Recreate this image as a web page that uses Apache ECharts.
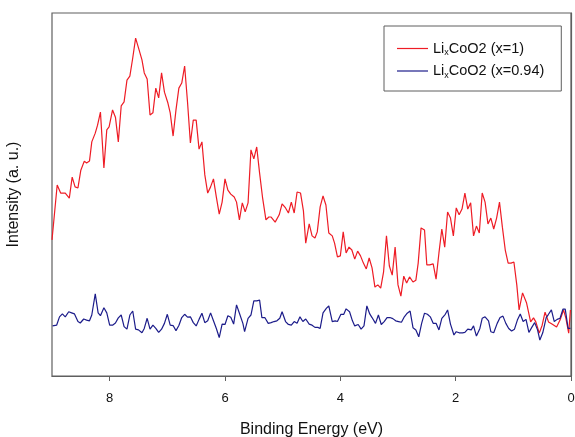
<!DOCTYPE html>
<html>
<head>
<meta charset="utf-8">
<script src="https://cdn.jsdelivr.net/npm/echarts@6/dist/echarts.min.js"></script>
<style>
  html, body { margin: 0; padding: 0; background: #fff; }
  #chart { width: 575px; height: 437px; }
</style>
</head>
<body>
<div id="chart"></div>
<script>
// binding energy (eV) and intensity (a.u., 0-100)
const redEnergy = [9.00,8.91,8.85,8.77,8.70,8.65,8.60,8.55,8.50,8.44,8.40,8.35,8.31,8.25,8.21,8.16,8.10,8.05,8.01,7.95,7.90,7.85,7.80,7.75,7.70,7.65,7.60,7.55,7.50,7.44,7.40,7.35,7.30,7.25,7.20,7.15,7.10,7.05,6.99,6.95,6.90,6.85,6.80,6.75,6.70,6.65,6.60,6.55,6.50,6.45,6.40,6.35,6.30,6.25,6.20,6.15,6.10,6.05,6.00,5.95,5.90,5.84,5.80,5.75,5.70,5.65,5.60,5.55,5.50,5.45,5.40,5.35,5.29,5.24,5.20,5.13,5.06,5.01,4.95,4.90,4.85,4.80,4.75,4.69,4.64,4.60,4.54,4.49,4.44,4.40,4.35,4.30,4.25,4.20,4.14,4.10,4.05,4.00,3.95,3.90,3.85,3.80,3.75,3.70,3.65,3.60,3.55,3.50,3.45,3.40,3.35,3.30,3.25,3.20,3.15,3.10,3.05,3.00,2.95,2.90,2.85,2.80,2.74,2.69,2.65,2.60,2.54,2.50,2.45,2.39,2.34,2.29,2.24,2.19,2.14,2.09,2.04,1.99,1.94,1.89,1.84,1.79,1.74,1.69,1.64,1.59,1.54,1.49,1.44,1.39,1.34,1.29,1.24,1.19,1.14,1.09,1.04,0.99,0.94,0.90,0.84,0.77,0.70,0.65,0.61,0.55,0.50,0.45,0.39,0.33,0.25,0.19,0.13,0.09,0.04,0.01]
const redIntensity = [37.5,52.6,50.4,50.4,49.0,54.8,52.1,51.8,56.7,59.2,58.7,59.2,64.5,66.9,69.1,72.7,57.3,67.8,68.6,73.3,71.3,64.5,74.4,75.5,81.5,82.6,87.6,93.1,90.4,87.1,83.5,81.8,71.9,72.5,79.3,76.6,83.5,78.2,75.2,72.5,66.1,73.3,79.3,80.7,85.4,75.5,64.2,70.5,70.5,62.5,64.5,55.4,50.4,52.1,54.3,49.3,44.6,47.9,54.3,51.2,50.1,49.3,47.9,43.0,47.7,45.2,47.7,62.3,59.8,63.1,55.9,49.3,43.0,43.8,43.8,42.4,44.4,47.4,46.3,44.9,47.9,44.9,50.7,50.4,45.5,36.6,41.9,38.6,38.0,39.7,46.6,49.6,47.1,39.4,38.6,36.6,32.8,33.1,39.7,33.9,35.5,34.7,32.2,34.4,33.1,31.1,29.5,32.5,29.8,24.5,25.1,24.2,28.7,38.6,30.3,27.8,35.5,25.1,22.0,27.5,25.6,27.3,25.9,26.4,31.1,40.8,40.2,30.6,30.6,30.9,26.7,33.9,40.5,35.5,45.2,43.5,38.6,46.3,44.4,46.0,50.4,46.0,47.7,38.6,41.3,39.4,50.4,47.9,41.9,43.5,40.5,43.5,47.9,41.0,34.7,31.1,31.1,31.4,25.1,18.2,22.9,20.1,14.9,16.0,14.9,11.8,14.0,17.6,14.9,14.3,13.5,15.4,18.2,16.0,11.8,18.2]

const blueEnergy = [8.99,8.92,8.87,8.82,8.77,8.71,8.66,8.61,8.55,8.51,8.45,8.40,8.35,8.31,8.25,8.20,8.16,8.10,8.05,8.00,7.95,7.90,7.85,7.80,7.75,7.70,7.65,7.60,7.55,7.50,7.44,7.40,7.35,7.30,7.25,7.20,7.15,7.10,7.05,7.00,6.95,6.90,6.85,6.80,6.75,6.70,6.65,6.60,6.55,6.50,6.45,6.40,6.35,6.30,6.25,6.20,6.15,6.10,6.05,6.00,5.95,5.90,5.85,5.80,5.75,5.69,5.66,5.60,5.55,5.50,5.45,5.40,5.36,5.31,5.25,5.20,5.15,5.10,5.05,5.01,4.95,4.90,4.85,4.80,4.75,4.70,4.65,4.60,4.54,4.49,4.44,4.39,4.35,4.30,4.24,4.20,4.14,4.09,4.05,3.99,3.94,3.90,3.84,3.79,3.75,3.69,3.64,3.59,3.54,3.49,3.45,3.39,3.34,3.29,3.24,3.19,3.14,3.09,3.04,2.99,2.94,2.89,2.84,2.79,2.74,2.69,2.64,2.59,2.54,2.49,2.44,2.39,2.34,2.29,2.24,2.18,2.14,2.09,2.03,1.99,1.94,1.88,1.84,1.79,1.73,1.69,1.64,1.58,1.54,1.49,1.43,1.39,1.34,1.28,1.23,1.18,1.13,1.08,1.03,0.98,0.93,0.88,0.83,0.78,0.73,0.68,0.63,0.58,0.54,0.49,0.43,0.39,0.34,0.29,0.24,0.19,0.14,0.10,0.05,0.01]
const blueIntensity = [13.8,14.0,16.3,17.1,16.3,17.7,17.4,17.1,15.0,14.6,15.7,15.4,15.2,16.8,22.6,17.4,16.6,18.8,17.4,14.0,14.0,14.6,16.0,16.8,13.6,12.9,16.8,17.9,12.9,12.7,11.9,13.1,15.9,12.9,14.0,13.1,12.0,12.9,14.5,17.0,14.0,13.9,12.5,13.9,16.1,17.0,16.2,16.3,14.7,13.8,15.6,17.3,14.7,15.2,17.4,15.2,13.1,10.6,14.3,14.2,16.6,16.2,14.3,19.6,17.3,14.5,12.2,15.9,16.8,20.7,20.7,20.9,16.1,16.1,14.5,14.7,15.0,15.2,15.9,17.7,15.0,14.2,14.0,15.0,14.5,16.3,15.0,15.7,14.3,14.0,13.4,13.4,13.1,17.4,18.7,19.3,15.0,15.2,15.0,17.0,17.0,18.5,17.7,15.2,13.8,14.2,12.9,13.8,19.3,17.1,16.1,14.5,16.8,14.2,15.0,16.1,16.1,15.8,15.2,15.0,14.8,16.3,17.3,17.9,13.3,12.7,10.8,14.5,17.3,17.0,16.3,14.5,14.5,12.7,15.9,17.0,18.2,14.3,11.3,12.2,11.9,11.9,12.0,12.9,12.7,13.8,11.0,13.1,15.9,16.3,15.2,12.2,11.9,14.5,16.1,16.5,14.5,13.1,12.4,12.9,15.4,17.1,15.0,15.6,12.0,13.4,14.7,12.7,9.9,11.9,16.1,17.0,18.2,15.0,15.6,15.9,18.4,18.4,13.1,13.1]

const seriesNames = ['x=1', 'x=0.94']
const energyTicks = [0, 2, 4, 6, 8]
const RED = '#ee1c25'
const NAVY = '#1c1c8a'
const FRAME = '#5f5f5f'
const FONT = 'Liberation Sans, Arial, sans-serif'

const pairs = (xs, ys) => xs.map((x, i) => [x, ys[i]])

const chart = echarts.init(document.getElementById('chart'), null, { renderer: 'canvas' })

chart.setOption({
  animation: false,
  backgroundColor: '#fff',
  textStyle: { fontFamily: FONT },
  grid: {
    left: 52, right: 4, top: 13, bottom: 61,
    outerBoundsMode: 'none',
    containLabel: false,
    show: true, borderColor: FRAME, borderWidth: 1.2, backgroundColor: 'transparent',
  },
  legend: {
    orient: 'vertical',
    left: 384, top: 26,
    padding: [15, 17, 11, 13],
    itemGap: 6,
    icon: 'rect',
    itemWidth: 31, itemHeight: 1.2,
    borderColor: FRAME, borderWidth: 1, borderRadius: 0,
    backgroundColor: '#fff',
    formatter: (name) => `Li{sub|x}CoO2 (${name})`,
    textStyle: {
      fontFamily: FONT, fontSize: 14.5, color: '#111',
      rich: { sub: { fontFamily: FONT, fontSize: 9, color: '#111', padding: [9, 0, 0, 0] } },
    },
    data: seriesNames,
  },
  xAxis: {
    type: 'value',
    inverse: true,
    min: 0, max: 9, interval: 2,
    name: 'Binding Energy (eV)',
    nameLocation: 'middle',
    nameGap: 46,
    nameTextStyle: { fontFamily: FONT, fontSize: 16, color: '#111' },
    axisLine: { show: true, lineStyle: { color: FRAME, width: 1.2 } },
    axisTick: { show: true, inside: false, length: 5, lineStyle: { color: FRAME, width: 1 }, customValues: energyTicks },
    axisLabel: { fontFamily: FONT, fontSize: 13, color: '#111', margin: 16, customValues: energyTicks },
    splitLine: { show: false },
  },
  yAxis: {
    type: 'value',
    min: 0, max: 100,
    name: 'Intensity (a. u.)',
    nameLocation: 'middle',
    nameGap: 30,
    nameTextStyle: { fontFamily: FONT, fontSize: 16, color: '#111' },
    axisLine: { show: true, lineStyle: { color: FRAME, width: 1.2 } },
    axisTick: { show: false },
    axisLabel: { show: false },
    splitLine: { show: false },
  },
  series: [
    {
      name: seriesNames[0],
      type: 'line',
      symbol: 'none',
      data: pairs(redEnergy, redIntensity),
      lineStyle: { color: RED, width: 1.2 },
      itemStyle: { color: RED },
    },
    {
      name: seriesNames[1],
      type: 'line',
      symbol: 'none',
      data: pairs(blueEnergy, blueIntensity),
      lineStyle: { color: NAVY, width: 1.2 },
      itemStyle: { color: NAVY },
    },
  ],
})
</script>
</body>
</html>
